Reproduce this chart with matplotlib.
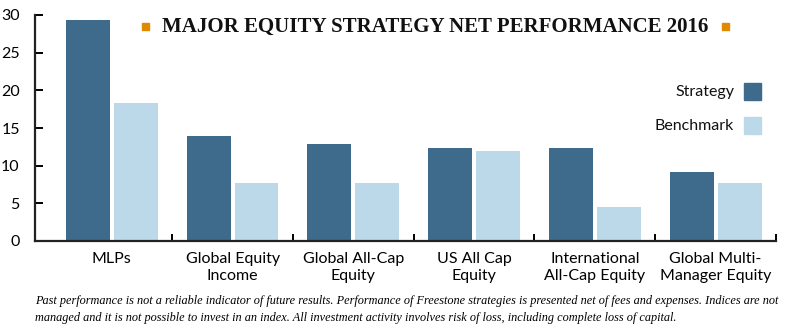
import matplotlib
matplotlib.use("Agg")
import matplotlib.pyplot as plt
import numpy as np
from matplotlib.patches import Rectangle

categories = ["MLPs", "Global Equity\nIncome", "Global All-Cap\nEquity", "US All Cap\nEquity",
              "International\nAll-Cap Equity", "Global Multi-\nManager Equity"]
strategy = [29.3, 13.9, 12.9, 12.35, 12.35, 9.2]
benchmark = [18.3, 7.7, 7.7, 11.95, 4.5, 7.7]
yticks = [0, 5, 10, 15, 20, 25, 30]

c_strat = "#3e6a8c"
c_bench = "#bbd9e8"
c_orange = "#e08a00"
sans = "Lato"

fig = plt.figure(figsize=(7.94, 3.30), dpi=100)
ax = fig.add_axes([35/794, 1-241/330, (776-35)/794, (241-15)/330])

x = np.arange(len(categories))
w = 0.364
off = 0.198
ax.bar(x - off, strategy, width=w, color=c_strat, zorder=2)
ax.bar(x + off, benchmark, width=w, color=c_bench, zorder=2)

ax.set_xlim(-0.636, len(categories) - 0.5)
ax.set_ylim(0, 30)
ax.set_yticks(yticks)
ax.set_yticklabels([str(t) for t in yticks], fontfamily=sans, fontsize=11.5)
ax.spines["top"].set_visible(False)
ax.spines["right"].set_visible(False)
for s in ["left", "bottom"]:
    ax.spines[s].set_linewidth(1.6)
    ax.spines[s].set_color("#222222")
ax.tick_params(axis="y", direction="in", length=6, width=1.4, pad=11)

ax.set_xticks(x)
ax.set_xticklabels(categories, fontfamily=sans, fontsize=11.5, linespacing=1.25)
ax.tick_params(axis="x", length=0, pad=8)
ax.set_xticks(np.arange(0.5, len(categories), 1.0), minor=True)
ax.tick_params(axis="x", which="minor", direction="in", length=5, width=1.4)

# Title
fig.text(435/794, 1-27/330, "MAJOR EQUITY STRATEGY NET PERFORMANCE 2016",
         fontfamily="Liberation Serif", fontweight="bold", fontsize=15,
         ha="center", va="center", color="#111111")
for px in [145, 725]:
    fig.patches.append(Rectangle((px/794 - 3/794, 1-30/330), 7/794, 7/330,
                                 transform=fig.transFigure, color=c_orange))

# Legend
for label, col, yc in [("Strategy", c_strat, 92), ("Benchmark", c_bench, 126)]:
    fig.patches.append(Rectangle((744/794, 1-(yc+8)/330), 17/794, 17/330,
                                 transform=fig.transFigure, color=col))
    fig.text(734/794, 1-yc/330, label, fontfamily=sans, fontsize=11.5,
             ha="right", va="center", color="#111111")

fig.text(35/794, 1-301/330,
         "Past performance is not a reliable indicator of future results. Performance of Freestone strategies is presented net of fees and expenses. Indices are not",
         fontfamily="Liberation Serif", fontstyle="italic", fontsize=8.8, ha="left", va="center")
fig.text(35/794, 1-318/330,
         "managed and it is not possible to invest in an index. All investment activity involves risk of loss, including complete loss of capital.",
         fontfamily="Liberation Serif", fontstyle="italic", fontsize=8.8, ha="left", va="center")

fig.savefig("out.png", dpi=100)
